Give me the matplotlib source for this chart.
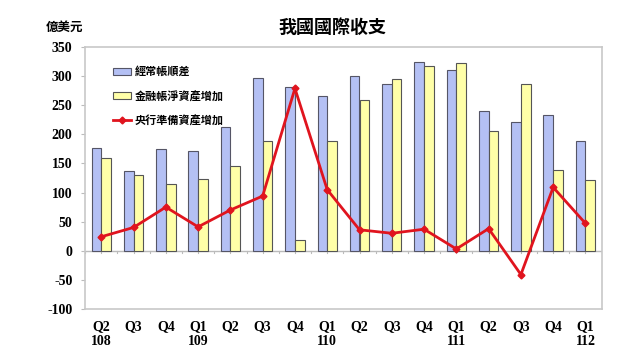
import matplotlib
matplotlib.use("Agg")
import matplotlib.pyplot as plt
import numpy as np

quarters = ["Q2", "Q3", "Q4", "Q1", "Q2", "Q3", "Q4", "Q1", "Q2", "Q3", "Q4", "Q1", "Q2", "Q3", "Q4", "Q1"]
years = ["108", "", "", "109", "", "", "", "110", "", "", "", "111", "", "", "", "112"]
current_account = [177, 137, 175, 172, 213, 297, 281, 266, 301, 286, 324, 311, 240, 221, 233, 189]
financial_account = [159, 131, 115, 123, 146, 189, 18, 189, 259, 296, 317, 322, 205, 287, 138, 121]
reserve_assets = [24, 40, 75, 41, 70, 94, 279, 105, 36, 30, 37, 3, 38, -41, 109, 47]

names = ["經常帳順差", "金融帳淨資產增加", "央行準備資產增加"]

cjk = ["Noto Sans CJK TC", "DejaVu Sans"]

fig = plt.figure(figsize=(6.4, 3.6), dpi=100)
ax = fig.add_axes([0.133, 0.142, 0.807, 0.727])

x = np.arange(len(quarters))
w = 0.3
b1 = ax.bar(x - w / 2, current_account, width=w, color="#B4C0F4", edgecolor="#555566", linewidth=0.8, label=names[0], zorder=2)
b2 = ax.bar(x + w / 2, financial_account, width=w, color="#FFFFA8", edgecolor="#555555", linewidth=0.8, label=names[1], zorder=2)
l1, = ax.plot(x, reserve_assets, color="#E0141E", linewidth=2.0, marker="D", markersize=3.5, label=names[2], zorder=3)

ax.set_xlim(-0.5, len(quarters) - 0.5)
ax.set_ylim(-100, 350)
ax.set_yticks(range(-100, 351, 50))
ax.set_yticklabels([str(v) for v in range(-100, 351, 50)], fontfamily="Liberation Serif", fontweight="bold", fontsize=10)
ax.tick_params(axis="y", length=3, color="#BBBBBB", pad=6)

# zero line with minor ticks between categories
ax.axhline(0, color="#BBBBBB", linewidth=1, zorder=1)
for xi in np.arange(-0.5, len(quarters), 0.5):
    ax.plot([xi, xi], [0, -4], color="#BBBBBB", linewidth=0.8, zorder=1)

ax.set_xticks(x)
ax.set_xticklabels([q + "\n" + y if y else q for q, y in zip(quarters, years)],
                   fontfamily="Liberation Serif", fontweight="bold", fontsize=10, linespacing=1.2, va="top")
ax.tick_params(axis="x", length=0, pad=8)

for s in ax.spines.values():
    s.set_color("#C8C8C8")
    s.set_linewidth(1.2)

leg = ax.legend(handles=[b1, b2, l1], loc="upper left", bbox_to_anchor=(0.035, 0.97), frameon=False,
                prop={"family": cjk, "size": 8, "weight": "bold"},
                handlelength=1.6, handleheight=0.6, labelspacing=1.0, handletextpad=0.3)

fig.text(0.52, 0.925, "我國國際收支", fontfamily=cjk, fontsize=13, fontweight="bold", ha="center", va="center")
fig.text(0.1, 0.925, "億美元", fontfamily=cjk, fontsize=9, fontweight="bold", ha="center", va="center")

fig.savefig("out.png", dpi=100)
